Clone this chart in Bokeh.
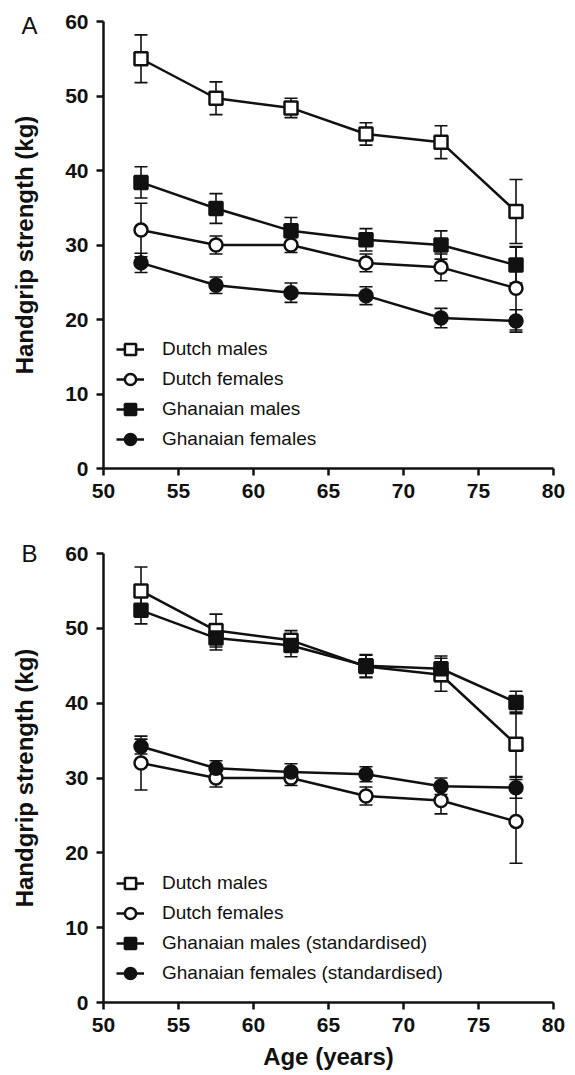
from bokeh.plotting import figure
from bokeh.models import (Range1d, Whisker, TeeHead, ColumnDataSource, Legend, LegendItem,
                          FixedTicker, LinearAxis)
from bokeh.layouts import column
from bokeh.embed import file_html
from bokeh.resources import INLINE

ages = [52.5, 57.5, 62.5, 67.5, 72.5, 77.5]
dutch_m = [55.0, 49.7, 48.4, 44.9, 43.8, 34.5]
dutch_m_err = [3.2, 2.2, 1.3, 1.5, 2.2, 4.3]
dutch_f = [32.0, 30.0, 30.0, 27.6, 27.0, 24.2]
dutch_f_err = [3.6, 1.2, 1.0, 1.2, 1.8, 5.6]
ghana_m = [38.4, 34.9, 31.9, 30.7, 30.0, 27.3]
ghana_m_err = [2.1, 2.0, 1.8, 1.5, 1.9, 2.4]
ghana_f = [27.6, 24.6, 23.6, 23.2, 20.2, 19.8]
ghana_f_err = [1.3, 1.1, 1.3, 1.2, 1.3, 1.5]
ghana_m_std = [52.4, 48.7, 47.7, 45.0, 44.6, 40.1]
ghana_m_std_err = [1.8, 1.6, 1.5, 1.5, 1.7, 1.5]
ghana_f_std = [34.2, 31.3, 30.8, 30.5, 28.9, 28.7]
ghana_f_std_err = [1.0, 1.0, 1.1, 1.0, 1.1, 1.4]

x_ticks = [50, 55, 60, 65, 70, 75, 80]
y_ticks = [0, 10, 20, 30, 40, 50, 60]

FONT = "Liberation Sans"
INK = "#111111"


def style_axis(ax, ticks):
    ax.ticker = FixedTicker(ticks=ticks)
    ax.minor_tick_line_color = None
    ax.axis_line_width = 2.5
    ax.axis_line_color = INK
    ax.major_tick_line_width = 2.5
    ax.major_tick_line_color = INK
    ax.major_tick_out = 7
    ax.major_tick_in = 0
    ax.major_label_standoff = 8
    ax.major_label_text_font = FONT
    ax.major_label_text_font_style = "bold"
    ax.major_label_text_font_size = "21px"
    ax.major_label_text_color = INK
    ax.axis_label_text_font = FONT
    ax.axis_label_text_font_style = "bold"
    ax.axis_label_text_font_size = "24px"
    ax.axis_label_text_color = INK


def make_panel(letter, series, height, top, bottom, xlabel):
    frame_h = height - top - bottom
    p = figure(width=567, height=height, output_backend="svg", toolbar_location=None,
               x_range=Range1d(50, 80), y_range=Range1d(0, 60),
               y_axis_location=None,
               min_border_left=103, min_border_right=14,
               min_border_top=top, min_border_bottom=bottom)
    p.outline_line_color = None
    p.xgrid.visible = False
    p.ygrid.visible = False
    p.background_fill_color = "white"
    p.border_fill_color = "white"
    style_axis(p.xaxis[0], x_ticks)
    if xlabel:
        p.xaxis.axis_label = xlabel
        p.xaxis.axis_label_standoff = 8

    # main y axis (closest to the frame)
    yax = LinearAxis()
    style_axis(yax, y_ticks)
    p.add_layout(yax, "left")

    # outer axis: carries the panel letter and the y axis title
    p.extra_y_ranges = {"px": Range1d(0, frame_h)}
    letter_pos = frame_h - 4 if letter == "A" else frame_h
    lax = LinearAxis(y_range_name="px", ticker=FixedTicker(ticks=[letter_pos]),
                     major_label_overrides={letter_pos: letter})
    lax.axis_line_color = None
    lax.major_tick_line_color = None
    lax.minor_tick_line_color = None
    lax.major_tick_out = 0
    lax.major_tick_in = 0
    lax.major_label_standoff = 25
    lax.major_label_text_font = FONT
    lax.major_label_text_font_size = "24px"
    lax.major_label_text_color = INK
    lax.axis_label = "Handgrip strength (kg)"
    lax.axis_label_standoff = -20
    lax.axis_label_text_font = FONT
    lax.axis_label_text_font_style = "bold"
    lax.axis_label_text_font_size = "24px"
    lax.axis_label_text_color = INK
    p.add_layout(lax, "left")

    items = []
    for name, vals, errs, marker, fill in series:
        src = ColumnDataSource(dict(x=ages, y=vals,
                                    lo=[v - e for v, e in zip(vals, errs)],
                                    hi=[v + e for v, e in zip(vals, errs)]))
        w = Whisker(base="x", upper="hi", lower="lo", source=src, dimension="height",
                    line_width=1.6, line_color=INK,
                    upper_head=TeeHead(size=13, line_width=1.6, line_color=INK),
                    lower_head=TeeHead(size=13, line_width=1.6, line_color=INK))
        p.add_layout(w)
        lr = p.line("x", "y", source=src, line_width=2.5, line_color=INK)
        sr = p.scatter("x", "y", source=src, marker=marker, size=13,
                       fill_color=fill, line_color=INK, line_width=2.5)
        items.append(LegendItem(label=name, renderers=[lr, sr]))

    legend = Legend(items=items, location=(13, 14), padding=0, margin=0, spacing=0,
                    glyph_width=28, glyph_height=30, label_height=30, label_standoff=18,
                    label_text_font=FONT, label_text_font_size="19px",
                    label_text_color=INK, background_fill_alpha=0,
                    border_line_color=None)
    p.add_layout(legend)
    return p


pA = make_panel("A", [
    ("Dutch males", dutch_m, dutch_m_err, "square", "white"),
    ("Dutch females", dutch_f, dutch_f_err, "circle", "white"),
    ("Ghanaian males", ghana_m, ghana_m_err, "square", INK),
    ("Ghanaian females", ghana_f, ghana_f_err, "circle", INK),
], height=538, top=21, bottom=70, xlabel=None)

pB = make_panel("B", [
    ("Dutch males", dutch_m, dutch_m_err, "square", "white"),
    ("Dutch females", dutch_f, dutch_f_err, "circle", "white"),
    ("Ghanaian males (standardised)", ghana_m_std, ghana_m_std_err, "square", INK),
    ("Ghanaian females (standardised)", ghana_f_std, ghana_f_std_err, "circle", INK),
], height=534, top=15, bottom=70, xlabel="Age (years)")

layout = column(pA, pB, spacing=0)
open("out.html", "w").write(file_html(layout, INLINE))
